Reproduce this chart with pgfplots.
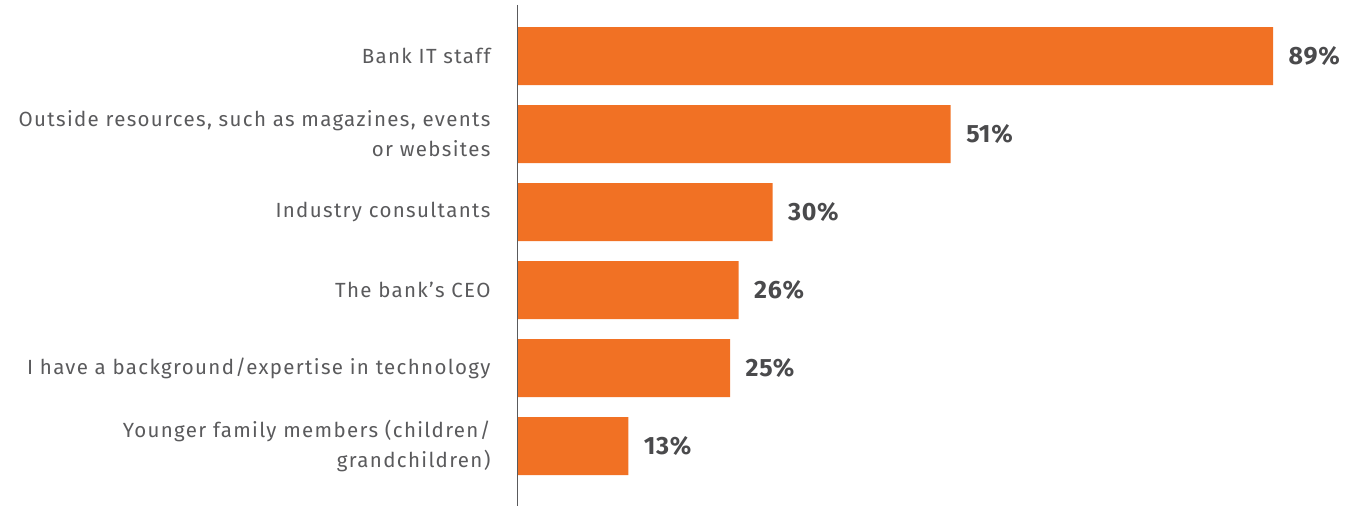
\documentclass[border=0pt]{standalone}
\usepackage{pgfplots}
\pgfplotsset{compat=1.18}
\usepackage{fontspec}
\setmainfont{Fira Sans}
\newfontfamily\labfont[LetterSpace=6.5]{Fira Sans}
\newfontfamily\valfont[LetterSpace=3]{Fira Sans}
\definecolor{barorange}{HTML}{F17124}
\definecolor{labgray}{HTML}{5A5A5C}
\definecolor{valgray}{HTML}{4A4A4C}
\begin{document}
\begin{tikzpicture}
\begin{axis}[
  name=ax,
  scale only axis=true,
  width=840pt, height=506pt,
  xbar, bar width=58pt,
  xmin=0, xmax=99.0,
  ymin=-0.718, ymax=5.769,
  y dir=reverse,
  axis x line=none,
  axis y line*=left,
  axis line style={draw=none},
  ytick={0,1,2,3,4,5},
  yticklabels={{Bank IT staff},{Outside resources, such as magazines, events\\or websites},{Industry consultants},{The bank’s CEO},{I have a background/expertise in technology},{Younger family members (children/\\grandchildren)}},
  yticklabel style={align=right, font=\labfont\fontsize{20.5}{30}\selectfont, text=labgray, xshift=-24pt},
  major tick length=0pt,
  xtick=\empty,
  /pgf/number format/assume math mode=true,
  nodes near coords={\pgfmathprintnumber{\pgfplotspointmeta}\%},
  nodes near coords style={font=\valfont\fontsize{25}{28}\selectfont\bfseries, text=valgray, anchor=west, xshift=12pt},
  clip=false,
]
\addplot[fill=barorange, draw=none] coordinates {(89,0) (51,1) (30,2) (26,3) (25,4) (13,5)};
\draw[color=labgray, line width=1pt] (axis cs:0,-0.654) -- (axis cs:0,5.769);
\end{axis}
\path ([xshift=-518pt]ax.south west) rectangle (ax.north east);
\end{tikzpicture}
\end{document}
